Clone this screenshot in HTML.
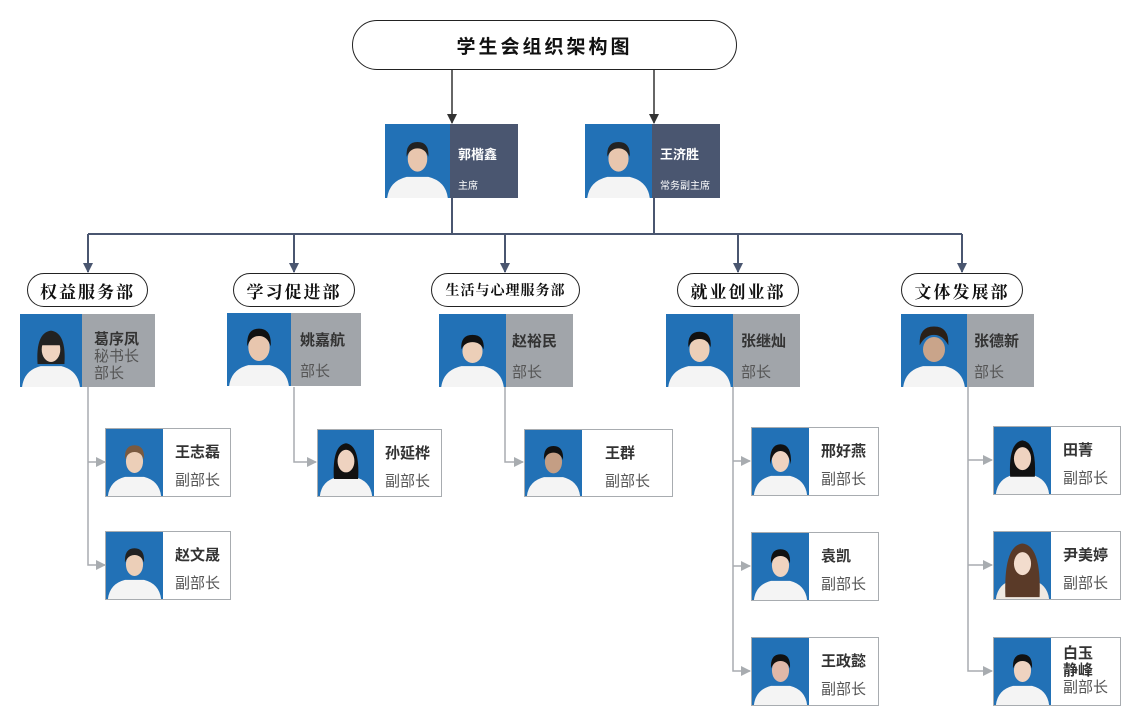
<!DOCTYPE html>
<html><head><meta charset="utf-8"><style>
body{margin:0;width:1139px;height:725px;background:#fff;position:relative;overflow:hidden;font-family:"Liberation Sans","Noto Sans CJK SC",sans-serif}
.a{position:absolute;box-sizing:border-box}
.pill{position:absolute;box-sizing:border-box;border:1.5px solid #222;border-radius:18px;background:#fff;display:flex;align-items:center;justify-content:center;font-family:"Liberation Serif","Noto Serif CJK SC",serif;font-weight:bold;color:#111;letter-spacing:2px;white-space:nowrap}
.ph{position:absolute;background:#2271b6;overflow:hidden}
.ph svg{width:100%;height:100%;display:block}
.info{position:absolute;box-sizing:border-box;padding-left:11px;color:#333;white-space:nowrap;overflow:visible}
.nm{font-weight:bold;font-size:15px;color:#333}
.rl{font-size:15px;color:#555}
.sub{position:absolute;box-sizing:border-box;border:1.5px solid #a8acb0;background:#fff}
</style></head><body>
<svg class="a" style="left:0;top:0" width="1139" height="725">
<defs>
<marker id="d" markerWidth="10" markerHeight="10" refX="9" refY="5" orient="auto" markerUnits="userSpaceOnUse" viewBox="0 0 10 10"><path d="M0,0 L10,5 L0,10Z" fill="#4a5670"/></marker>
<marker id="k" markerWidth="10" markerHeight="10" refX="9" refY="5" orient="auto" markerUnits="userSpaceOnUse" viewBox="0 0 10 10"><path d="M0,0 L10,5 L0,10Z" fill="#333"/></marker>
<marker id="g" markerWidth="10" markerHeight="10" refX="9" refY="5" orient="auto" markerUnits="userSpaceOnUse" viewBox="0 0 10 10"><path d="M0,0 L10,5 L0,10Z" fill="#a8acb0"/></marker>
</defs>
<g stroke="#333" stroke-width="1.5" fill="none">
<line x1="452" y1="70" x2="452" y2="123" marker-end="url(#k)"/>
<line x1="654" y1="70" x2="654" y2="123" marker-end="url(#k)"/>
</g>
<g stroke="#4a5670" stroke-width="2" fill="none">
<line x1="452" y1="198" x2="452" y2="234"/>
<line x1="654" y1="198" x2="654" y2="234"/>
<line x1="88" y1="234" x2="962" y2="234"/>
<line x1="88" y1="234" x2="88" y2="272" marker-end="url(#d)"/>
<line x1="294" y1="234" x2="294" y2="272" marker-end="url(#d)"/>
<line x1="505" y1="234" x2="505" y2="272" marker-end="url(#d)"/>
<line x1="738" y1="234" x2="738" y2="272" marker-end="url(#d)"/>
<line x1="962" y1="234" x2="962" y2="272" marker-end="url(#d)"/>
</g>
<g stroke="#a8acb0" stroke-width="1.5" fill="none">
<path d="M88 387 V565 H105" marker-end="url(#g)"/><path d="M88 462 H105" marker-end="url(#g)"/>
<path d="M294 387 V462 H316" marker-end="url(#g)"/>
<path d="M505 387 V462 H523" marker-end="url(#g)"/>
<path d="M733 387 V671 H750" marker-end="url(#g)"/><path d="M733 461 H750" marker-end="url(#g)"/><path d="M733 566 H750" marker-end="url(#g)"/>
<path d="M968 387 V671 H992" marker-end="url(#g)"/><path d="M968 460 H992" marker-end="url(#g)"/><path d="M968 565 H992" marker-end="url(#g)"/>
</g>
</svg>

<div class="pill" style="left:352px;top:20px;width:385px;height:50px;border-radius:25px;font-family:'Liberation Sans','Noto Sans CJK SC',sans-serif;font-size:19px;letter-spacing:3px">学生会组织架构图</div>

<!-- top cards -->
<div class="ph" style="left:385px;top:124px;width:65px;height:74px"><svg viewBox="0 0 60 70" preserveAspectRatio="none"><path d="M2 70 Q4 54 20 50 L40 50 Q56 54 58 70Z" fill="#f4f4f4"/><ellipse cx="30" cy="33" rx="9" ry="12" fill="#e8c6ae"/><path d="M20 31 Q19 17 30 17 Q41 17 40 31 Q37 23 30 23 Q23 23 20 31Z" fill="#222"/></svg></div>
<div class="info" style="left:450px;top:124px;width:68px;height:74px;background:#4a5670;color:#fff;padding-left:8px"><div style="font-weight:bold;font-size:13px;margin-top:20px">郭楷鑫</div><div style="font-size:10px;margin-top:14px">主席</div></div>
<div class="ph" style="left:585px;top:124px;width:67px;height:74px"><svg viewBox="0 0 60 70" preserveAspectRatio="none"><path d="M2 70 Q4 54 20 50 L40 50 Q56 54 58 70Z" fill="#f4f4f4"/><ellipse cx="30" cy="33" rx="9" ry="12" fill="#e8c6ae"/><path d="M20 31 Q19 17 30 17 Q41 17 40 31 Q37 23 30 23 Q23 23 20 31Z" fill="#222"/></svg></div>
<div class="info" style="left:652px;top:124px;width:68px;height:74px;background:#4a5670;color:#fff;padding-left:8px"><div style="font-weight:bold;font-size:13px;margin-top:20px">王济胜</div><div style="font-size:10px;margin-top:14px">常务副主席</div></div>

<!-- dept pills -->
<div class="pill" style="left:27px;top:273px;width:121px;height:34px;font-size:17px">权益服务部</div>
<div class="pill" style="left:233px;top:273px;width:122px;height:34px;font-size:17px">学习促进部</div>
<div class="pill" style="left:431px;top:273px;width:149px;height:34px;font-size:14px;letter-spacing:1px">生活与心理服务部</div>
<div class="pill" style="left:677px;top:273px;width:122px;height:34px;font-size:17px">就业创业部</div>
<div class="pill" style="left:901px;top:273px;width:122px;height:34px;font-size:17px">文体发展部</div>

<!-- heads -->
<div class="ph" style="left:20px;top:314px;width:62px;height:73px"><svg viewBox="0 0 60 70" preserveAspectRatio="none"><path d="M2 70 Q4 54 20 50 L40 50 Q56 54 58 70Z" fill="#f4f4f4"/><path d="M17 48 Q15 18 30 16 Q45 18 43 48Z" fill="#222"/><ellipse cx="30" cy="34" rx="9" ry="12" fill="#efd3c0"/><path d="M21 30 Q21 20 30 20 Q39 20 39 30Z" fill="#222"/></svg></div>
<div class="info" style="left:82px;top:314px;width:73px;height:73px;background:#a1a5aa;line-height:17px;padding-top:17px;padding-left:12px"><div class="nm">葛序凤</div><div class="rl">秘书长</div><div class="rl">部长</div></div>

<div class="ph" style="left:227px;top:313px;width:64px;height:73px"><svg viewBox="0 0 60 70" preserveAspectRatio="none"><path d="M2 70 Q4 54 20 50 L40 50 Q56 54 58 70Z" fill="#f4f4f4"/><ellipse cx="30" cy="33" rx="10" ry="13" fill="#e8c6ae"/><path d="M19 32 Q18 15 30 15 Q42 15 41 32 Q38 22 30 22 Q22 22 19 32Z" fill="#111"/></svg></div>
<div class="info" style="left:291px;top:313px;width:70px;height:73px;background:#a1a5aa;padding-left:9px"><div class="nm" style="margin-top:16px">姚嘉航</div><div class="rl" style="margin-top:10px">部长</div></div>

<div class="ph" style="left:439px;top:314px;width:67px;height:73px"><svg viewBox="0 0 60 70" preserveAspectRatio="none"><path d="M2 70 Q4 54 20 50 L40 50 Q56 54 58 70Z" fill="#f4f4f4"/><ellipse cx="30" cy="36" rx="9" ry="11" fill="#eccfb8"/><path d="M20 34 Q19 20 30 20 Q41 20 40 34 Q37 27 30 27 Q23 27 20 34Z" fill="#111"/></svg></div>
<div class="info" style="left:506px;top:314px;width:67px;height:73px;background:#a1a5aa;padding-left:6px"><div class="nm" style="margin-top:16px">赵裕民</div><div class="rl" style="margin-top:10px">部长</div></div>

<div class="ph" style="left:666px;top:314px;width:67px;height:73px"><svg viewBox="0 0 60 70" preserveAspectRatio="none"><path d="M2 70 Q4 54 20 50 L40 50 Q56 54 58 70Z" fill="#f4f4f4"/><ellipse cx="30" cy="34" rx="9" ry="12" fill="#eccfb8"/><path d="M20 32 Q19 17 30 17 Q41 17 40 32 Q37 24 30 24 Q23 24 20 32Z" fill="#111"/></svg></div>
<div class="info" style="left:733px;top:314px;width:67px;height:73px;background:#a1a5aa;padding-left:8px"><div class="nm" style="margin-top:16px">张继灿</div><div class="rl" style="margin-top:10px">部长</div></div>

<div class="ph" style="left:901px;top:314px;width:66px;height:73px"><svg viewBox="0 0 60 70" preserveAspectRatio="none"><path d="M2 70 Q4 54 20 50 L40 50 Q56 54 58 70Z" fill="#f4f4f4"/><ellipse cx="30" cy="34" rx="10" ry="12" fill="#c9a48a"/><path d="M17 30 Q16 12 30 12 Q44 12 43 30 Q38 20 30 20 Q22 20 17 30Z" fill="#2a2018"/></svg></div>
<div class="info" style="left:967px;top:314px;width:67px;height:73px;background:#a1a5aa;padding-left:7px"><div class="nm" style="margin-top:16px">张德新</div><div class="rl" style="margin-top:10px">部长</div></div>

<!-- subs -->
<div class="sub" style="left:105px;top:428px;width:126px;height:69px"></div>
<div class="ph" style="left:106px;top:429px;width:57px;height:67px"><svg viewBox="0 0 60 70" preserveAspectRatio="none"><path d="M2 70 Q4 54 20 50 L40 50 Q56 54 58 70Z" fill="#f4f4f4"/><ellipse cx="30" cy="34" rx="9" ry="12" fill="#eccfb8"/><path d="M20 32 Q19 17 30 17 Q41 17 40 32 Q37 24 30 24 Q23 24 20 32Z" fill="#7a5a40"/></svg></div>
<div class="info" style="left:163px;top:428px;width:68px;padding-left:12px"><div class="nm" style="margin-top:13px">王志磊</div><div class="rl" style="margin-top:7px">副部长</div></div>

<div class="sub" style="left:105px;top:531px;width:126px;height:69px"></div>
<div class="ph" style="left:106px;top:532px;width:57px;height:67px"><svg viewBox="0 0 60 70" preserveAspectRatio="none"><path d="M2 70 Q4 54 20 50 L40 50 Q56 54 58 70Z" fill="#f4f4f4"/><ellipse cx="30" cy="34" rx="9" ry="12" fill="#eccfb8"/><path d="M20 32 Q19 17 30 17 Q41 17 40 32 Q37 24 30 24 Q23 24 20 32Z" fill="#222"/></svg></div>
<div class="info" style="left:163px;top:531px;width:68px;padding-left:12px"><div class="nm" style="margin-top:13px">赵文晟</div><div class="rl" style="margin-top:7px">副部长</div></div>

<div class="sub" style="left:317px;top:429px;width:125px;height:68px"></div>
<div class="ph" style="left:318px;top:430px;width:56px;height:66px"><svg viewBox="0 0 60 70" preserveAspectRatio="none"><path d="M2 70 Q4 54 20 50 L40 50 Q56 54 58 70Z" fill="#f4f4f4"/><path d="M17 52 Q15 16 30 14 Q45 16 43 52Z" fill="#111"/><ellipse cx="30" cy="33" rx="9" ry="12" fill="#efd3c0"/></svg></div>
<div class="info" style="left:374px;top:429px;width:68px;padding-left:11px"><div class="nm" style="margin-top:13px">孙延桦</div><div class="rl" style="margin-top:7px">副部长</div></div>

<div class="sub" style="left:524px;top:429px;width:149px;height:68px"></div>
<div class="ph" style="left:525px;top:430px;width:57px;height:66px"><svg viewBox="0 0 60 70" preserveAspectRatio="none"><path d="M2 70 Q4 54 20 50 L40 50 Q56 54 58 70Z" fill="#f4f4f4"/><ellipse cx="30" cy="34" rx="9" ry="12" fill="#c49e84"/><path d="M20 32 Q19 17 30 17 Q41 17 40 32 Q37 24 30 24 Q23 24 20 32Z" fill="#111"/></svg></div>
<div class="info" style="left:582px;top:429px;width:90px;padding-left:23px"><div class="nm" style="margin-top:13px">王群</div><div class="rl" style="margin-top:7px">副部长</div></div>

<div class="sub" style="left:751px;top:427px;width:128px;height:69px"></div>
<div class="ph" style="left:752px;top:428px;width:57px;height:67px"><svg viewBox="0 0 60 70" preserveAspectRatio="none"><path d="M2 70 Q4 54 20 50 L40 50 Q56 54 58 70Z" fill="#f4f4f4"/><ellipse cx="30" cy="34" rx="9" ry="12" fill="#efd3c0"/><path d="M19 38 Q18 17 30 17 Q42 17 41 38 Q38 24 30 24 Q22 24 19 38Z" fill="#111"/></svg></div>
<div class="info" style="left:809px;top:427px;width:70px;padding-left:12px"><div class="nm" style="margin-top:13px">邢好燕</div><div class="rl" style="margin-top:7px">副部长</div></div>

<div class="sub" style="left:751px;top:532px;width:128px;height:69px"></div>
<div class="ph" style="left:752px;top:533px;width:57px;height:67px"><svg viewBox="0 0 60 70" preserveAspectRatio="none"><path d="M2 70 Q4 54 20 50 L40 50 Q56 54 58 70Z" fill="#f4f4f4"/><ellipse cx="30" cy="34" rx="9" ry="12" fill="#efd3c0"/><path d="M20 32 Q19 17 30 17 Q41 17 40 32 Q37 24 30 24 Q23 24 20 32Z" fill="#111"/></svg></div>
<div class="info" style="left:809px;top:532px;width:70px;padding-left:12px"><div class="nm" style="margin-top:13px">袁凯</div><div class="rl" style="margin-top:7px">副部长</div></div>

<div class="sub" style="left:751px;top:637px;width:128px;height:69px"></div>
<div class="ph" style="left:752px;top:638px;width:57px;height:67px"><svg viewBox="0 0 60 70" preserveAspectRatio="none"><path d="M2 70 Q4 54 20 50 L40 50 Q56 54 58 70Z" fill="#f4f4f4"/><ellipse cx="30" cy="34" rx="9" ry="12" fill="#e0b8a8"/><path d="M20 32 Q19 17 30 17 Q41 17 40 32 Q37 24 30 24 Q23 24 20 32Z" fill="#111"/></svg></div>
<div class="info" style="left:809px;top:637px;width:70px;padding-left:12px"><div class="nm" style="margin-top:13px">王政懿</div><div class="rl" style="margin-top:7px">副部长</div></div>

<div class="sub" style="left:993px;top:426px;width:128px;height:69px"></div>
<div class="ph" style="left:994px;top:427px;width:57px;height:67px"><svg viewBox="0 0 60 70" preserveAspectRatio="none"><path d="M2 70 Q4 54 20 50 L40 50 Q56 54 58 70Z" fill="#f4f4f4"/><path d="M17 52 Q15 16 30 14 Q45 16 43 52Z" fill="#111"/><ellipse cx="30" cy="33" rx="9" ry="12" fill="#efd3c0"/></svg></div>
<div class="info" style="left:1051px;top:426px;width:70px;padding-left:12px"><div class="nm" style="margin-top:13px">田菁</div><div class="rl" style="margin-top:7px">副部长</div></div>

<div class="sub" style="left:993px;top:531px;width:128px;height:69px"></div>
<div class="ph" style="left:994px;top:532px;width:57px;height:67px"><svg viewBox="0 0 60 70" preserveAspectRatio="none"><path d="M2 70 Q4 54 20 50 L40 50 Q56 54 58 70Z" fill="#efe9e2"/><path d="M12 68 Q10 14 30 12 Q50 14 48 68Z" fill="#5a3a28"/><ellipse cx="30" cy="33" rx="9" ry="12" fill="#f2dccd"/></svg></div>
<div class="info" style="left:1051px;top:531px;width:70px;padding-left:12px"><div class="nm" style="margin-top:13px">尹美婷</div><div class="rl" style="margin-top:7px">副部长</div></div>

<div class="sub" style="left:993px;top:637px;width:128px;height:69px"></div>
<div class="ph" style="left:994px;top:638px;width:57px;height:67px"><svg viewBox="0 0 60 70" preserveAspectRatio="none"><path d="M2 70 Q4 54 20 50 L40 50 Q56 54 58 70Z" fill="#f4f4f4"/><ellipse cx="30" cy="34" rx="9" ry="12" fill="#efd3c0"/><path d="M20 32 Q19 17 30 17 Q41 17 40 32 Q37 24 30 24 Q23 24 20 32Z" fill="#111"/></svg></div>
<div class="info" style="left:1051px;top:637px;width:70px;padding-left:12px;line-height:17px"><div class="nm" style="margin-top:8px">白玉<br>静峰</div><div class="rl">副部长</div></div>
</body></html>
